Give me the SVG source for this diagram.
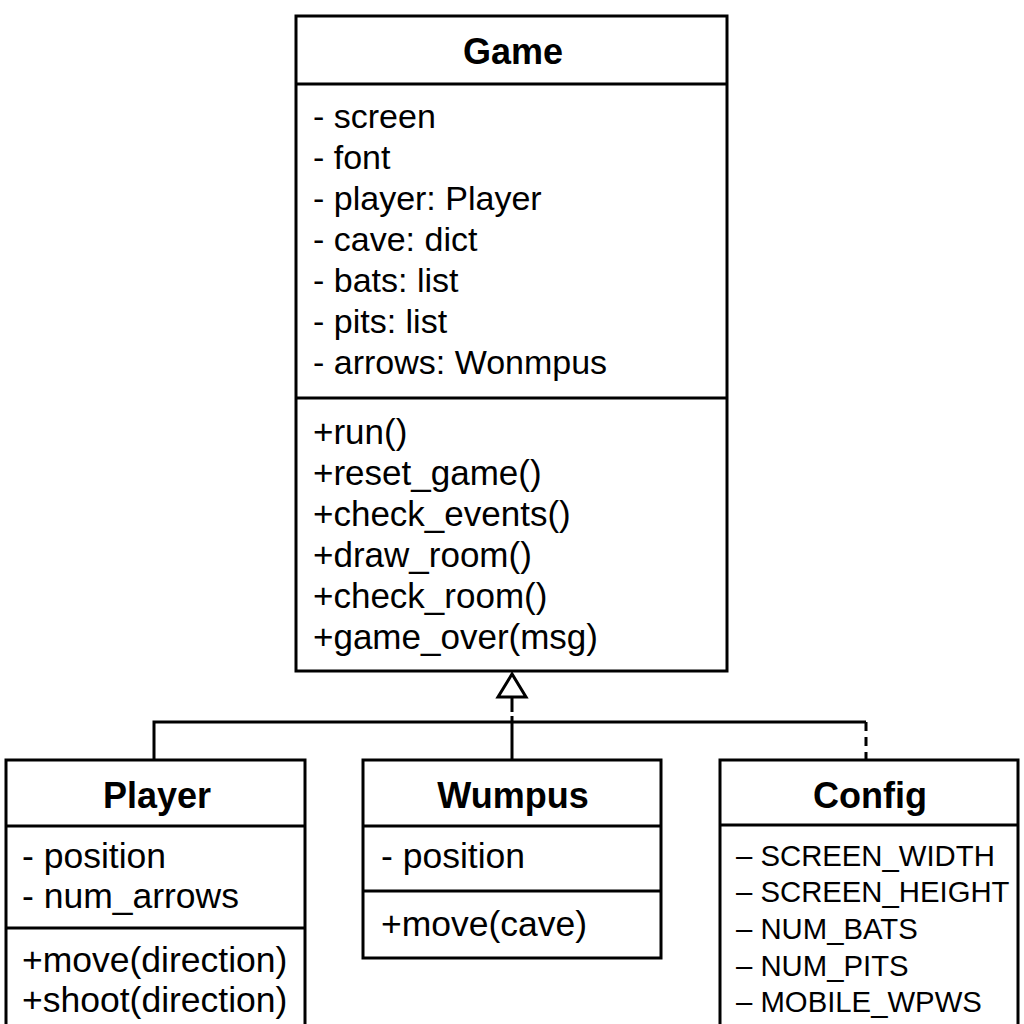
<svg xmlns="http://www.w3.org/2000/svg" width="1024" height="1024" viewBox="0 0 1024 1024">
<style>
.box{fill:#fff;stroke:#000;stroke-width:3}
.ln{stroke:#000;stroke-width:3;fill:none}
.t{font-family:"Liberation Sans",Arial,sans-serif;font-size:34px;fill:#000}
.m{font-family:"Liberation Sans",Arial,sans-serif;font-size:35px;fill:#000}
.b{font-family:"Liberation Sans",Arial,sans-serif;font-size:35.5px;fill:#000}
.h{font-family:"Liberation Sans",Arial,sans-serif;font-size:36px;font-weight:bold;fill:#000;text-anchor:middle}
.c{font-family:"Liberation Sans",Arial,sans-serif;font-size:29.3px;fill:#000}
</style>
<rect width="1024" height="1024" fill="#fff"/>
<g id="connectors">
<line class="ln" x1="512" y1="697" x2="512" y2="712"/>
<line class="ln" x1="512" y1="716" x2="512" y2="760"/>
<polyline class="ln" points="154,760 154,722 866,722"/>
<line class="ln" x1="866" y1="722" x2="866" y2="760" stroke-dasharray="9,6"/>
<polygon points="512,674 498,697 526,697" fill="#fff" stroke="#000" stroke-width="3"/>
</g>
<g id="Game">
<rect class="box" x="296" y="16" width="431" height="655"/>
<line class="ln" x1="296" y1="84" x2="727" y2="84"/>
<line class="ln" x1="296" y1="398" x2="727" y2="398"/>
<text class="h" x="513" y="64">Game</text>
<text class="t" x="313" y="128">- screen</text>
<text class="t" x="313" y="169">- font</text>
<text class="t" x="313" y="210">- player: Player</text>
<text class="t" x="313" y="251">- cave: dict</text>
<text class="t" x="313" y="292">- bats: list</text>
<text class="t" x="313" y="333">- pits: list</text>
<text class="t" x="313" y="374">- arrows: Wonmpus</text>
<text class="m" x="313" y="444">+run()</text>
<text class="m" x="313" y="485">+reset_game()</text>
<text class="m" x="313" y="526">+check_events()</text>
<text class="m" x="313" y="567">+draw_room()</text>
<text class="m" x="313" y="608">+check_room()</text>
<text class="m" x="313" y="649">+game_over(msg)</text>
</g>
<g id="Player">
<rect class="box" x="6" y="760" width="299" height="280"/>
<line class="ln" x1="6" y1="826" x2="305" y2="826"/>
<line class="ln" x1="6" y1="928" x2="305" y2="928"/>
<text class="h" x="157" y="808">Player</text>
<text class="b" x="22" y="868">- position</text>
<text class="b" x="22" y="908">- num_arrows</text>
<text class="b" x="22" y="972">+move(direction)</text>
<text class="b" x="22" y="1012">+shoot(direction)</text>
</g>
<g id="Wumpus">
<rect class="box" x="363" y="760" width="298" height="198"/>
<line class="ln" x1="363" y1="826" x2="661" y2="826"/>
<line class="ln" x1="363" y1="891" x2="661" y2="891"/>
<text class="h" x="513" y="808">Wumpus</text>
<text class="b" x="381" y="868">- position</text>
<text class="b" x="381" y="936">+move(cave)</text>
</g>
<g id="Config">
<rect class="box" x="720" y="760" width="298" height="280"/>
<line class="ln" x1="720" y1="825" x2="1018" y2="825"/>
<text class="h" x="870" y="808">Config</text>
<text class="c" x="736" y="866">– SCREEN_WIDTH</text>
<text class="c" x="736" y="902">– SCREEN_HEIGHT</text>
<text class="c" x="736" y="939">– NUM_BATS</text>
<text class="c" x="736" y="976">– NUM_PITS</text>
<text class="c" x="736" y="1012">– MOBILE_WPWS</text>
</g>
</svg>
